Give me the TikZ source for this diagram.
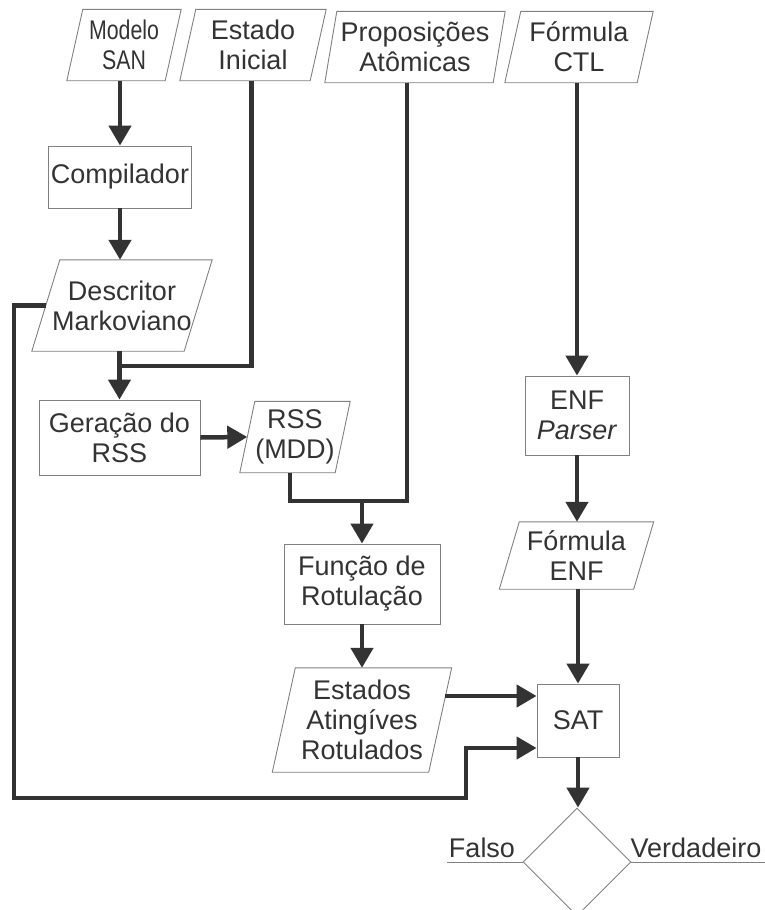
\documentclass[tikz,border=0pt]{standalone}
\usepackage{fontspec}
\setmainfont{Liberation Sans}
\newfontfamily\narrowfont{Liberation Sans}[FakeStretch=0.79]
\usetikzlibrary{arrows.meta,shapes.geometric}
\definecolor{ink}{HTML}{333333}
\definecolor{edgegray}{HTML}{808080}
\tikzset{
 lbl/.style={font=\fontsize{27}{30}\selectfont, text=ink, align=center, inner sep=0pt},
 boxnode/.style={lbl, draw=edgegray, line width=0.9pt},
 ptext/.style={lbl},
 pborder/.style={draw=edgegray, line width=0.9pt},
 flow/.style={draw=ink, line width=4.5pt},
 arr/.style={flow, -{Triangle[length=20pt,width=22pt]}},
}
\newcommand{\mypara}[7]{%
 \node[ptext, minimum width=#4pt, minimum height=#5pt] (#1) at (#2,#3) {#7};
 \draw[pborder] ([xshift=-#6pt]#1.south west) -- ([xshift=-#6pt]#1.south east) -- ([xshift=#6pt]#1.north east) -- ([xshift=#6pt]#1.north west) -- cycle;}
\begin{document}
\begin{tikzpicture}[x=1pt,y=-1pt]
\useasboundingbox (0,0) rectangle (764,910);
% nodes
\mypara{ms}{124}{45}{98}{71}{8}{{\narrowfont Modelo}\\{\narrowfont SAN}}
\mypara{ei}{253}{45}{130}{71}{8}{Estado\\Inicial}
\mypara{pa}{415}{47}{168}{71}{6}{Proposições\\Atômicas}
\mypara{fc}{579}{47}{132}{71}{8}{Fórmula\\CTL}
\node[boxnode, minimum width=143pt, minimum height=62pt] (comp) at (120,177) {Compilador};
\mypara{dm}{122}{305.5}{152}{91}{14}{Descritor\\Markoviano}
\node[boxnode, minimum width=161pt, minimum height=75pt] (gr) at (119.5,437.5) {Geração do\\RSS};
\mypara{rss}{295}{437}{95}{71}{7.5}{RSS\\(MDD)}
\node[boxnode, minimum width=104pt, minimum height=79pt] (enf) at (577,415.5) {ENF\\\textit{Parser}};
\node[boxnode, minimum width=156pt, minimum height=80pt] (fun) at (362,584) {Função de\\Rotulação};
\mypara{fe}{576.5}{555.5}{134}{67}{10}{Fórmula\\ENF}
\mypara{est}{362}{720}{156}{104}{11.5}{Estados\\Atingíves\\Rotulados}
\node[boxnode, minimum width=82pt, minimum height=73pt] (sat) at (578,720.5) {SAT};
\node[draw=edgegray, line width=0.9pt, shape=diamond, minimum width=108pt, minimum height=108pt, inner sep=0pt] (dec) at (577,862) {};
\node[lbl, anchor=base] (falso) at (482,857) {Falso};
\node[lbl, anchor=base] (verd) at (696,857) {Verdadeiro};
\coordinate (fend) at (447,862);
\coordinate (vend) at (770,862);
\draw[pborder] (dec.west) -- (fend);
\draw[pborder] (dec.east) -- (vend);
% connectors
\draw[arr] (comp.north |- ms.south) -- (comp.north);
\draw[arr] (comp.south) -- (comp.south |- dm.north);
\coordinate (j1) at (119.5,366);
\draw[flow] ([xshift=-1.5pt]ei.south) |- (j1);
\draw[arr] (dm.south -| gr.north) -- (gr.north);
\draw[arr] (gr.east) -- (rss.west);
\coordinate (j2) at (407,501);
\coordinate (j3) at (362,501);
\draw[flow] ([xshift=-8pt]pa.south) |- ([xshift=-5pt]rss.south |- j2) -- ([xshift=-5pt]rss.south);
\draw[arr] (j3) -- (fun.north);
\draw[arr] (fun.south) -- (est.north);
\draw[arr] ([xshift=5pt,yshift=24pt]est.east) -- ([yshift=24.5pt]sat.west);
\coordinate (c1) at (14,305.5);
\coordinate (c2) at (14,798);
\coordinate (c3) at (466,798);
\draw[arr] (dm.west) -- (c1) -- (c2) -- (c3) |- ([yshift=-27.5pt]sat.west);
\draw[arr] (fc.south -| enf.north) -- (enf.north);
\draw[arr] (enf.south) -- (fe.north -| enf.south);
\draw[arr] (fe.south -| sat.north) -- (sat.north);
\draw[arr] (sat.south) -- (dec.north -| sat.south);
\end{tikzpicture}
\end{document}
